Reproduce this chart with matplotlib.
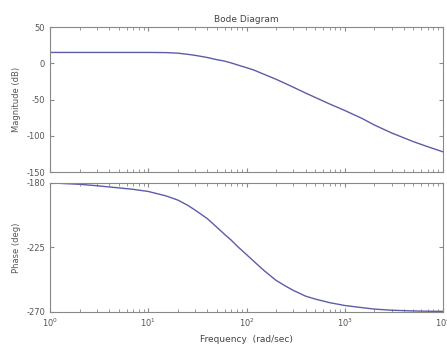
import matplotlib
matplotlib.use("Agg")
import matplotlib.pyplot as plt
import numpy as np

plt.rcParams["axes.unicode_minus"] = False

freq = [1, 2, 3, 5, 7, 10, 15, 20, 25, 30, 40, 50, 60, 70, 80, 100, 120, 150, 200, 250,
        300, 400, 500, 700, 1000, 1500, 2000, 3000, 5000, 7000, 10000]
mag_db = [15, 15, 15, 15, 15, 15, 14.8, 14, 12.5, 11, 8, 5, 3, 0.5, -2, -6, -9.5, -15, -22, -28,
          -33, -41, -47, -56, -65, -76, -85, -96, -108, -115, -122]
phase_deg = [-180, -181, -182, -183.5, -184.5, -186, -189, -192, -195.5, -199, -205, -211, -216,
             -220, -224, -230, -235, -241, -248, -252, -255, -259, -261, -263.5, -265.5, -267,
             -268, -268.8, -269.3, -269.5, -269.6]

title = "Bode Diagram"
xlabel = "Frequency  (rad/sec)"
mag_label = "Magnitude (dB)"
phase_label = "Phase (deg)"
mag_ticks = [50, 0, -50, -100, -150]
phase_ticks = [-180, -225, -270]

line_color = "#5c5ca8"
frame_color = "#888888"
text_color = "#555555"

fig = plt.figure(figsize=(4.47, 3.47), dpi=100)
ax1 = fig.add_axes([0.112, 0.504, 0.879, 0.418])
ax2 = fig.add_axes([0.112, 0.101, 0.879, 0.372])

ax1.semilogx(freq, mag_db, color=line_color, lw=1.0)
ax2.semilogx(freq, phase_deg, color=line_color, lw=1.0)

for ax in (ax1, ax2):
    ax.set_xlim(1, 1e4)
    ax.tick_params(which="both", direction="in", top=True, right=True,
                   labelsize=6, colors=frame_color, labelcolor=text_color)
    ax.tick_params(which="major", length=3)
    ax.tick_params(which="minor", length=2)
    for s in ax.spines.values():
        s.set_color(frame_color)
        s.set_linewidth(0.8)

ax1.set_ylim(-150, 50)
ax1.set_yticks(mag_ticks)
ax1.tick_params(which="both", labelbottom=False)
ax1.set_ylabel(mag_label, fontsize=6, color=text_color)
ax1.set_title(title, fontsize=6.5, color="#444444", pad=4)

ax2.set_ylim(-270, -180)
ax2.set_yticks(phase_ticks)
ax2.set_ylabel(phase_label, fontsize=6, color=text_color)
ax2.set_xlabel(xlabel, fontsize=6.5, color="#444444", labelpad=4)

fig.savefig("out.png", dpi=100)
